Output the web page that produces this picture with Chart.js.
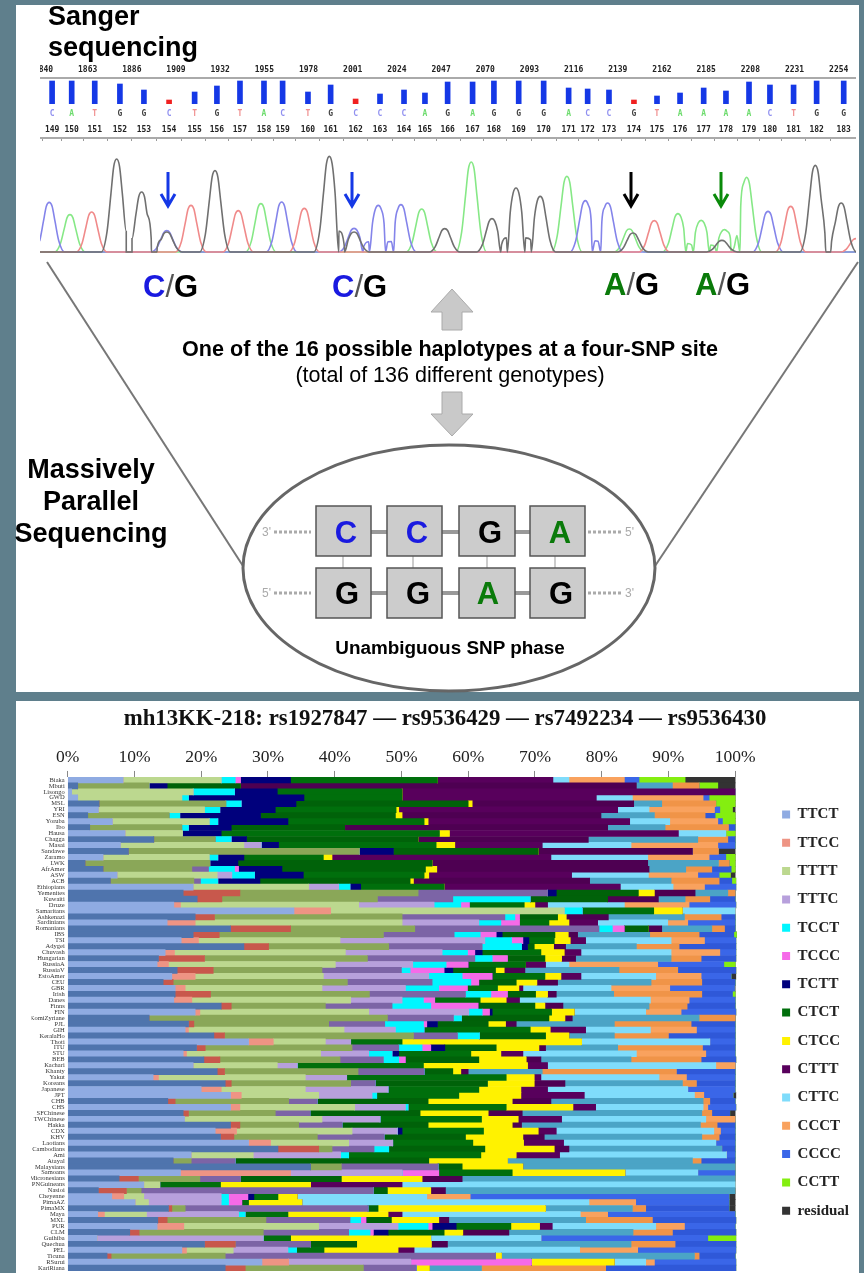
<!DOCTYPE html>
<html>
<head>
<meta charset="utf-8">
<title>mh13KK-218</title>
<script src="https://cdn.jsdelivr.net/npm/chart.js@4"></script>
<style>
html, body { margin: 0; padding: 0; background: #5f7f8c; }
body { position: relative; width: 864px; height: 1273px; overflow: hidden; }
.panel { position: absolute; left: 16px; width: 843px; background: #fff; }
canvas { position: absolute; }
svg { position: absolute; left: 0; top: 0; }
svg text { font-family: "Liberation Sans", Arial, sans-serif; }
</style>
</head>
<body>
<div class="panel" style="top:5px;height:687px"></div>
<div class="panel" style="top:701px;height:572px"></div>

<canvas id="traceChart" width="816" height="104" style="left:40px;top:150px"></canvas>
<canvas id="qualityChart" width="816" height="81" style="left:40px;top:62px"></canvas>
<canvas id="haploChart" width="843" height="572" style="left:16px;top:701px"></canvas>

<svg width="864" height="700" viewBox="0 0 864 700">
  <text x="48" y="25" font-size="27" font-weight="bold">Sanger</text>
  <text x="48" y="56" font-size="27" font-weight="bold">sequencing</text>

  <g fill="none" stroke-width="3">
    <path d="M168 172V206M161 194L168 206L175 194" stroke="#1538e6"/>
    <path d="M352 172V206M345 194L352 206L359 194" stroke="#1538e6"/>
    <path d="M631 172V206M624 194L631 206L638 194" stroke="#000"/>
    <path d="M721 172V206M714 194L721 206L728 194" stroke="#0a8a0a"/>
  </g>

  <g stroke="#777" stroke-width="2" fill="none">
    <path d="M47 262L243 566"/>
    <path d="M858 262L655 566"/>
  </g>

  <g font-size="31" font-weight="bold">
    <text x="143" y="297"><tspan fill="#1a1ae0">C</tspan><tspan fill="#555" font-weight="normal">/</tspan><tspan fill="#000">G</tspan></text>
    <text x="332" y="297"><tspan fill="#1a1ae0">C</tspan><tspan fill="#555" font-weight="normal">/</tspan><tspan fill="#000">G</tspan></text>
    <text x="604" y="295"><tspan fill="#0a7a0a">A</tspan><tspan fill="#555" font-weight="normal">/</tspan><tspan fill="#000">G</tspan></text>
    <text x="695" y="295"><tspan fill="#0a7a0a">A</tspan><tspan fill="#555" font-weight="normal">/</tspan><tspan fill="#000">G</tspan></text>
  </g>

  <g fill="#c9c9c9" stroke="#aaa" stroke-width="1">
    <path d="M452 289L473 312H462V330H442V312H431Z"/>
    <path d="M442 392H462V414H473L452 436L431 414H442Z"/>
  </g>

  <text x="450" y="356" font-size="21.6" font-weight="bold" text-anchor="middle">One of the 16 possible haplotypes at a four-SNP site</text>
  <text x="450" y="382" font-size="21.5" text-anchor="middle">(total of 136 different genotypes)</text>

  <g font-size="27" font-weight="bold" text-anchor="middle">
    <text x="91" y="478">Massively</text>
    <text x="91" y="510">Parallel</text>
    <text x="91" y="542">Sequencing</text>
  </g>

  <ellipse cx="449" cy="568" rx="206" ry="123" fill="#fff" stroke="#666" stroke-width="3"/>

  <g stroke="#999" stroke-width="4">
    <path d="M371 532H387M442 532H459M515 532H530"/>
    <path d="M371 593H387M442 593H459M515 593H530"/>
  </g>
  <g stroke="#ccc" stroke-width="2">
    <path d="M343 556V568M413 556V568M487 556V568M555 556V568"/>
  </g>
  <g stroke="#aaa" stroke-width="3" stroke-dasharray="3 2">
    <path d="M274 532H311M588 532H622M274 593H311M588 593H622"/>
  </g>
  <g font-size="12" fill="#aaa">
    <text x="262" y="536">3'</text>
    <text x="625" y="536">5'</text>
    <text x="262" y="597">5'</text>
    <text x="625" y="597">3'</text>
  </g>
  <g fill="#ccc" stroke="#555" stroke-width="1.5">
    <rect x="316" y="506" width="55" height="50"/>
    <rect x="387" y="506" width="55" height="50"/>
    <rect x="459" y="506" width="56" height="50"/>
    <rect x="530" y="506" width="55" height="50"/>
    <rect x="316" y="568" width="55" height="50"/>
    <rect x="387" y="568" width="55" height="50"/>
    <rect x="459" y="568" width="56" height="50"/>
    <rect x="530" y="568" width="55" height="50"/>
  </g>
  <g font-size="31" font-weight="bold" text-anchor="middle">
    <text x="346" y="543" fill="#1a1ae0">C</text>
    <text x="417" y="543" fill="#1a1ae0">C</text>
    <text x="490" y="543" fill="#000">G</text>
    <text x="560" y="543" fill="#0a7a0a">A</text>
    <text x="347" y="604" fill="#000">G</text>
    <text x="418" y="604" fill="#000">G</text>
    <text x="488" y="604" fill="#0a7a0a">A</text>
    <text x="561" y="604" fill="#000">G</text>
  </g>
  <text x="450" y="654" font-size="18.9" font-weight="bold" text-anchor="middle">Unambiguous SNP phase</text>
</svg>

<script>
// main stacked chart: one row per population, one array per haplotype
const populations = ['Biaka','Mbuti','Lisongo','GWD','MSL','YRI','ESN','Yoruba','Ibo','Hausa',
    'Chagga','Masai','Sandawe','Zaramo','LWK','AfrAmer','ASW','ACB','Ethiopians','Yemenites',
    'Kuwaiti','Druze','Samaritans','Ashkenazi','Sardinians','Romanians','IBS','TSI','Adygei','Chuvash',
    'Hungarian','RussiaA','RussiaV','EstoAmer','CEU','GBR','Irish','Danes','Finns','FIN',
    'KomiZyriane','PJL','GIH','KeralaHo','Thoti','ITU','STU','BEB','Kachari','Khanty',
    'Yakut','Koreans','Japanese','JPT','CHB','CHS','SFChinese','TWChinese','Hakka','CDX',
    'KHV','Laotians','Cambodians','Ami','Atayal','Malaysians','Samoans','Micronesians','PNGuineans','Nasioi',
    'Cheyenne','PimaAZ','PimaMX','Maya','MXL','PUR','CLM','Guihiba','Quechua','PEL',
    'Ticuna','RSurui','KariRiana'];

const haplotypes = ['TTCT','TTCC','TTTT','TTTC','TCCT','TCCC','TCTT','CTCT','CTCC','CTTT','CTTC','CCCT','CCCC','CCTT','residual'];

const TTCT = [8.3,1.5,0.6,1.5,4.7,4.6,3,6.7,3.3,8.6,
    12.9,7.9,9.1,5.3,2.6,5.3,7.4,6.4,18.8,17.3,
    19.4,15.9,33.9,19.1,14.9,24.4,18.8,17,26.4,14.6,
    13.6,13.4,16.4,15.6,14.3,16.1,16.1,15.9,23,19.1,
    12.2,18.1,17.6,21.9,27.1,19.3,17.3,20.4,18.8,22.4,
    12.8,23.6,20,24.4,15,24.4,17.3,17.5,24.4,22.1,
    22.9,27.1,31.5,18.5,15.8,36.4,16.9,7.7,11.4,4.6,
    6.6,10.1,15.1,4.5,13.5,13.4,9.3,4.4,20.5,17.1,5.9,29.1,23.6];
const TTCC = [0,0,0,0,0,0,0,0,0,0,
    0,0,0,0,0,0,0,0,0,8.5,
    3.7,1,5.5,2.9,4.2,9,3.9,2.6,3.7,1.4,
    6.9,1.7,5.4,3.5,1.5,1.5,5.3,2.7,1.5,0.7,
    0,0.8,0.5,1.6,3.7,1.3,0.5,2.4,0,1.1,
    0.8,0.9,3,1.6,1.1,1.4,0.8,0,1.4,3.2,
    2,3.3,6.1,0,0,0,16.5,2.9,0,4.2,
    1.8,0,0.5,1,1.4,4,1.4,0,4.6,0.7,0.6,4,3];
const TTTT = [14.7,10.7,18.2,15.6,19,15.9,12.2,14.5,13.8,8.6,
    9.2,18.5,34.6,15.9,18.7,13.3,15,12.5,17.3,26.7,
    23.3,26.7,35,28.1,31,18.6,24.6,21.2,18,25.6,
    24.4,25,16.3,19.2,26.1,20.5,23.8,23.8,14.1,25.3,
    35.7,20.2,23.3,28.3,7.8,22,20.1,18,12.6,20,
    22,17.9,12.6,11.6,17,17.2,13,20.6,8.8,17.3,
    12.5,11.7,2,9.3,2.7,4.6,0,9.2,2.4,2.2,
    3,2,2,6.3,14.8,20.2,18.6,0,0,7,17.1,0,17.7];
const TTTC = [0,0,0,0,0,0,0,0,0,0,
    0,2.6,0,0,0,2.5,2.2,1,4.5,19.4,
    11.3,11.3,0,15.4,11.5,27.6,10.6,21.7,14,14.5,
    16.1,11.6,11.9,15.8,12.7,12.5,14.4,7.7,10,15,
    9.9,8.4,7.7,6.6,3.8,7,7.2,6.5,3,9.9,
    6.2,3.7,12.4,8,4.3,7.6,5.2,8.7,6.5,6.8,
    10,6.6,6.3,13.1,6.6,14.5,16.7,6.1,0,34.8,
    11.6,10.9,27.4,13.8,12.6,11.9,12.8,24.9,11.3,8.2,40.5,18.3,7.9];
const TCCT = [2.1,0,6.2,1,2.3,2.3,1.6,1.3,1,0,
    2.4,0,0,1.3,0,3.9,3.4,2.6,1.7,0,
    11.6,4,2.7,1.5,3.3,2,3.9,4,5.9,3.8,
    2.6,5,1.3,5,5.8,5,3.8,3.2,5.8,2,
    1.2,5.8,4.3,3.3,0,3.5,3.5,2.3,0,0,
    0,0,0,0.7,0,0.4,0,0,0,0,
    0,0,2.2,1.2,0,0,0,0,0,0,
    1.1,1.1,0,1,1.6,4.5,3.2,0,0,1.3,0,0,0];
const TCCC = [0.8,0,0,0,0,0,0,0,0,0,
    0,0,0,0,0,0.6,0,0,0,0,
    0,1.3,0,0.7,2.8,1.8,2.4,1.7,0,1.1,
    2.3,3.3,5.1,4.5,1.2,4.3,2.5,1.7,7.1,1.1,
    0,0.5,0,0,0,1.3,0,1,0,0,
    0,0,0,0,0,0,0,0,0,0,
    0,0,0,0,0,0,5.5,0,0,0,
    2.9,2,0,0,0.8,0.6,0.5,0,0,0,0,18.1,0];
const TCTT = [7.5,2.7,6.4,17.3,8.2,8.3,12.1,10.5,6.4,5.8,
    2.3,2.6,5.1,3.9,4.2,6.5,7.3,6.3,1.6,1.3,
    0,0,0,0,0,0,0.9,0.9,0.9,1.1,
    0,0,1.3,0,0,0,0,0,0,0.4,
    0,1.6,0,0,0,2.1,1,0,0,0,
    0,0,0,0,0,0,0,0,0,0.7,
    0,0,0,0,0,0,0,0,0,0,
    0.9,0,0,0,0,3.6,2.2,0,0,0,0,0,0];
const CTCT = [22,11,18.7,14.7,25.8,18.1,20.2,20.4,17,32.7,
    25.7,23.6,21.7,11.9,29.1,21.5,18.1,22.5,12.5,12.3,
    11.6,8.2,10.7,5.7,4.4,3.6,7.9,3.8,1,8.8,
    5.6,8.6,6.4,7.9,5.6,4.5,4.2,6.8,8.5,8.9,
    13.1,7.6,15.9,9.9,7.7,7.7,10.8,11,18.9,4.3,
    23.9,16.8,13.6,12.3,16.6,14.7,16.5,15.2,12.9,12.2,
    12.2,12,14.4,19.8,29,3.6,11,15.1,9.1,2.1,
    3.6,1,1.5,6.4,3.8,8.2,8.4,4.1,6.9,4.1,0,0,0];
const CTCC = [0,0,0,0,0.6,0.4,1,0.6,0,1.5,
    0,2.8,0,1.3,0,1.7,0.7,0.5,0,2.4,
    0,1.6,4.3,1.3,3,0,2,2.4,2.9,3.5,
    2.5,0,1.3,2.4,3.1,3.2,1.8,3.9,1.5,3.4,
    2.4,2.6,3,3.5,26.9,6.4,4.5,7.1,15.6,1.2,
    4.2,7,6.3,9.3,12.6,10,10.2,5.5,12.6,8.2,
    8.6,7.6,10.4,5.3,11.8,9.1,16.9,12.1,13.5,6.5,
    2.9,8,25.1,15,7.1,4.3,2.8,21,11.2,11.1,0.9,12.4,2];
const CTTT = [17.3,59.3,49.9,29.1,24.2,32.8,29.8,30.2,39.4,34.3,
    25.5,13.1,23.1,32.8,32.3,31.8,21.4,26.4,26.4,6.1,
    7.6,1.9,0,6.3,4.3,2,1.4,2.3,1.8,2.5,
    2.1,3,3.1,3,3.1,0.6,1.3,2,2.7,0,
    1.1,1.6,5.3,0,0,1,3.3,2.2,3,1.1,
    1,4.6,4,9.5,5.8,3.4,5.1,6.5,1.4,2.7,
    3.2,6,2.2,6.5,0,0,0,6,13.7,2.2,
    0,0,0,2.1,1.5,1.9,6.9,0,2.4,2.4,0,0,0];
const CTTC = [2.4,5.4,0,5.4,4.2,4.7,8,6,8.6,7.1,
    16.4,13.3,0,14.5,10.6,5.5,11.5,12.2,7.9,4.9,
    4,11.5,7.9,11.4,10.5,7.5,10.8,12.8,10.6,13.5,
    14.3,3.5,14.1,11.2,14,13.2,8.6,19.6,12.9,10.7,
    19,14.7,9.7,6.8,19.2,10.8,17,13.5,25.2,11.1,
    17.7,17.6,21,16.5,22.8,16.1,26.9,21.6,26.8,23.6,
    23.6,22.8,22.9,25,27.7,31.8,10.9,40.9,49.9,43.4,
    19.4,43,13,26.7,20.5,15.5,18.6,16.5,27.5,24.8,28.9,4.7,7.8];
const CCCT = [8.3,4,0,10.6,8.1,9.8,7.6,7.2,9.5,0,
    4.5,13,3.9,9.2,1.6,3.9,7.4,7.2,4.7,1.1,
    3.7,9.7,0,5.5,3,1.9,7.4,5,6.4,7.3,
    4.5,13.3,8.8,6.8,7.6,8.8,13.2,5.8,5.7,5.3,
    5.4,11.5,6.9,8.1,0,12.7,10.4,10.5,2.9,20.1,
    4.1,2.1,0,1.4,1,0.7,1.5,4.4,2.5,1,
    2.6,0,0,0,1.3,0,0,0,0,0,
    6.5,7,2,4.1,10,4.3,5.9,0,6.6,8.7,0.7,1.3,18.6];
const CCCC = [2.2,0,0,0.9,0,0.8,1.5,0.7,1,0,
    1.1,2.6,0,2.5,0,2.9,3.2,1.9,4.7,0,
    3.8,7,0,2.1,7.1,1.6,5.2,4.7,8.5,2.4,
    5.2,9.9,8.7,4.5,5,9.7,4.6,6.9,7.2,8.2,
    0,6.6,5.8,10,3.8,4.9,4.4,5.2,0,8.8,
    7.3,5.8,7.1,4.4,3.8,4.2,2.7,0,2.7,2.2,
    2.4,2.9,2,1.3,5.1,0,5.6,0,0,0,
    38.8,14,12.5,19.1,12.5,7.6,9.5,25,9.1,14.7,5.4,12.2,19.5];
const CCTT = [6.9,2.8,0,3.9,2.9,1.9,3,1.9,0,1.4,
    0,0,0,1.4,0.9,0.6,1.7,0.6,0,0,
    0,0,0,0,0,0,0.4,0,0,0,
    0,1.7,0,0,0,0,0.4,0,0,0,
    0,0,0,0,0,0,0,0,0,0,
    0,0,0,0,0,0,0,0,0,0,
    0,0,0,0,0,0,0,0,0,0,
    0,0,0,0,0,0,0,4.2,0,0,0,0,0];
const residual = [7.5,2.6,0,0,0,0.4,0,0,0,0,
    0,0,2.5,0,0,0,0.7,0,0,0,
    0,0,0,0,0,0,0,0,0,0,
    0,0,0,0.7,0,0.1,0,0,0,0,
    0,0,0,0,0,0,0,0,0,0,
    0,0,0,0.4,0,0,0.8,0,0,0,
    0,0,0,0,0,0,0,0,0,0,
    0.9,0.9,0.9,0,0,0,0,0,0,0,0,0,0];

const percentTicks = [0,10,20,30,40,50,60,70,80,90,100];

// sanger trace: quality bars and peaks along the scan position
const scanTicks = [1840,1863,1886,1909,1932,1955,1978,2001,2024,2047,2070,2093,2116,2139,2162,2185,2208,2231,2254];
const baseCalls = ['C','A','T','G','G','C','T','G','T','A','C','T','G','C','C','C','A','G','A','G','G','G','A','C','C','G','T','A','A','A','A','C','T','G','G'];
const baseIndex = [149,150,151,152,153,154,155,156,157,158,159,160,161,162,163,164,165,166,167,168,169,170,171,172,173,174,175,176,177,178,179,180,181,182,183];
const baseScan = [1844.5,1854.7,1866.7,1879.8,1892.3,1905.4,1918.7,1930.3,1942.3,1954.8,1964.5,1977.7,1989.5,2002.5,2015.2,2027.7,2038.6,2050.4,2063.4,2074.5,2087.4,2100.4,2113.4,2123.3,2134.4,2147.4,2159.4,2171.4,2183.7,2195.3,2207.3,2218.2,2230.5,2242.5,2256.6];
const qualityValues = [23,23,23,20,14,4,12,18,23,23,23,12,19,5,10,14,11,22,22,23,23,23,16,15,14,4,8,11,16,13,22,19,19,23,23];

const peakScanA = [1853.8,1953.2,2036.9,2062.7,2112.5,2145,2170.3,2182.4,2194.6,2206];
const peakHeightA = [112,145,129,270,227,69,115,95,67,224];
const peakScanC = [1843,1904.2,1964,2001.7,2014.3,2026.1,2122.1,2133.7,2217.2];
const peakHeightC = [149,64,150,71,140,142,154,147,122];
const peakScanG = [1878.1,1891.1,1904.2,1929.3,1988.8,2001.7,2048.9,2073.5,2086,2098.6,2146.9,2193.2,2241.8,2255.3];
const peakHeightG = [279,180,60,244,287,60,70,100,192,167,57,35,260,147];
const peakScanT = [1865.1,1916.8,1941.4,1975.8,2158,2229,2263];
const peakHeightT = [120,140,124,131,94,137,40];

const seriesValues = [TTCT,TTCC,TTTT,TTTC,TCCT,TCCC,TCTT,CTCT,CTCC,CTTT,CTTC,CCCT,CCCC,CCTT,residual];
const coresClaras = ['#8fabe2','#ee9484','#bcd88f','#b7a0dc','#00f6ff','#f56ae8','#00007c','#006f0c','#fff200','#58005c','#7fdcfb','#f9a25e','#3a66e8','#84ee10','#333333'];
const coresEscuras = ['#4f74ad','#c8584c','#8aa758','#7c64a6','#00f6ff','#f56ae8','#00007c','#006209','#fff200','#4e0052','#4ba4c6','#f09448','#2f58d8','#84ee10','#333333'];
const linhasEscuras = [2,5,7,9,11,13,15,16,18,20,21,24,26,27,29,31,33,35,37,39,41,42,44,46,48,50,52,55,57,59,61,63,65,66,68,70,73,75,77,79,81,83];

const coresBase = { A: '#6fdc6f', C: '#9090f0', G: '#444444', T: '#f09090' };
const scanMin = 1838.2;
const scanMax = 2263;

function criarDatasetsHaplotipos() {
    return haplotypes.map((nome, i) => ({
        label: nome,
        data: seriesValues[i],
        backgroundColor: ctx => linhasEscuras.includes(ctx.dataIndex + 1) ? coresEscuras[i] : coresClaras[i],
        borderWidth: 0,
        barPercentage: 1,
        categoryPercentage: 1
    }));
}

function criarGraficoHaplotipos() {
    new Chart(document.getElementById('haploChart'), {
        type: 'bar',
        data: { labels: populations, datasets: criarDatasetsHaplotipos() },
        options: {
            indexAxis: 'y',
            responsive: false,
            animation: false,
            devicePixelRatio: 1,
            layout: { padding: { left: 15, right: 0, top: 4, bottom: 2 } },
            scales: {
                x: {
                    position: 'top',
                    stacked: true,
                    min: 0,
                    // room between the 100% edge and the legend
                    max: 105.04,
                    afterBuildTicks: axis => { axis.ticks = percentTicks.map(v => ({ value: v })); },
                    afterFit: axis => { axis.height = 44; },
                    ticks: {
                        callback: v => v + '%',
                        font: { family: '"Liberation Serif"', size: 17.5 },
                        color: '#222',
                        padding: 3.5,
                        maxRotation: 0,
                        autoSkip: false
                    },
                    grid: { drawOnChartArea: false, tickLength: 6, color: '#888' },
                    border: { display: false }
                },
                y: {
                    stacked: true,
                    afterFit: axis => { axis.width = 36.7; axis.paddingTop = 0; axis.paddingBottom = 0; },
                    ticks: {
                        autoSkip: false,
                        font: { family: '"Liberation Serif"', size: 6.5 },
                        color: '#333',
                        padding: 3
                    },
                    grid: { display: false, drawTicks: false },
                    border: { display: false }
                }
            },
            plugins: {
                tooltip: { enabled: false },
                title: {
                    display: true,
                    text: 'mh13KK-218: rs1927847 \u2014 rs9536429 \u2014 rs7492234 \u2014 rs9536430',
                    font: { family: '"Liberation Serif"', size: 22.8, weight: 'bold' },
                    color: '#111',
                    padding: { top: 0, bottom: 0.6 }
                },
                legend: {
                    position: 'right',
                    title: { display: true, text: ' ', padding: 24, font: { size: 1 } },
                    labels: {
                        boxWidth: 8,
                        boxHeight: 8,
                        padding: 13.3,
                        font: { family: '"Liberation Serif"', size: 15, weight: 'bold' },
                        color: '#222'
                    }
                }
            }
        }
    });
}

function eixoScan(posicao, extras) {
    return Object.assign({
        type: 'linear',
        position: posicao,
        offset: false,
        min: scanMin,
        max: scanMax,
        grid: { display: false, drawTicks: false },
        border: { display: false }
    }, extras);
}

function fonteMono() {
    return { family: '"DejaVu Sans Mono"', size: 8, weight: 'bold' };
}

function criarGraficoQualidade() {
    new Chart(document.getElementById('qualityChart'), {
        type: 'bar',
        data: {
            datasets: [{
                label: 'quality',
                data: baseScan.map((x, i) => ({ x: x, y: qualityValues[i] })),
                backgroundColor: qualityValues.map(q => q < 6 ? '#f02020' : '#1538e6'),
                barThickness: 5
            }]
        },
        options: {
            responsive: false,
            animation: false,
            devicePixelRatio: 1,
            layout: { padding: 0 },
            plugins: { legend: { display: false }, tooltip: { enabled: false } },
            scales: {
                x: eixoScan('top', {
                    afterBuildTicks: axis => { axis.ticks = scanTicks.map(v => ({ value: v })); },
                    afterFit: axis => { axis.height = 16; axis.paddingLeft = 0; axis.paddingRight = 0; },
                    ticks: { autoSkip: false, maxRotation: 0, padding: 3, font: fonteMono(), color: '#222', callback: v => v },
                    border: { display: true, color: '#aaa', width: 2 }
                }),
                xBase: eixoScan('bottom', {
                    weight: 1,
                    afterBuildTicks: axis => { axis.ticks = baseScan.map(v => ({ value: v })); },
                    afterFit: axis => { axis.height = 16; axis.paddingLeft = 0; axis.paddingRight = 0; },
                    ticks: {
                        autoSkip: false,
                        maxRotation: 0,
                        padding: 5,
                        font: fonteMono(),
                        color: ctx => coresBase[baseCalls[ctx.index]],
                        callback: (v, i) => baseCalls[i]
                    }
                }),
                xIndex: eixoScan('bottom', {
                    weight: 2,
                    afterBuildTicks: axis => { axis.ticks = baseScan.map(v => ({ value: v })); },
                    afterFit: axis => { axis.height = 18; axis.paddingLeft = 0; axis.paddingRight = 0; },
                    ticks: {
                        autoSkip: false,
                        maxRotation: 0,
                        padding: 5,
                        font: fonteMono(),
                        color: '#222',
                        callback: (v, i) => baseIndex[i]
                    }
                }),
                xRule: eixoScan('bottom', {
                    weight: 3,
                    afterBuildTicks: axis => { axis.ticks = baseScan.map(v => ({ value: v })); },
                    afterFit: axis => { axis.height = 5; axis.paddingLeft = 0; axis.paddingRight = 0; },
                    ticks: { display: false, autoSkip: false },
                    grid: { display: true, drawOnChartArea: false, drawTicks: true, tickLength: 3, color: '#999' },
                    border: { display: true, color: '#aaa', width: 2 }
                }),
                y: { display: false, min: 0, max: 26 }
            }
        }
    });
}

// bell outline of one peak: scan offset and fraction of its height
const peakOffsets = [-8,-5,-3,-1.5,0,1.5,3,5,8];
const peakFractions = [0,0.22,0.62,0.92,1,0.92,0.62,0.22,0];

function pontosDoCanal(scans, alturas) {
    const pontos = [{ x: scanMin - 10, y: 0 }];
    scans.forEach((x, i) => {
        peakOffsets.forEach((d, j) => pontos.push({ x: x + d, y: alturas[i] * peakFractions[j] }));
    });
    pontos.push({ x: scanMax + 10, y: 0 });
    return pontos.sort((a, b) => a.x - b.x);
}

function datasetTraco(nome, scans, alturas, cor) {
    return {
        label: nome,
        data: pontosDoCanal(scans, alturas),
        borderColor: cor,
        borderWidth: 1.6,
        pointRadius: 0,
        cubicInterpolationMode: 'monotone'
    };
}

function criarGraficoTraco() {
    new Chart(document.getElementById('traceChart'), {
        type: 'line',
        data: {
            datasets: [
                datasetTraco('G', peakScanG, peakHeightG, '#707070'),
                datasetTraco('T', peakScanT, peakHeightT, '#f08a8a'),
                datasetTraco('C', peakScanC, peakHeightC, '#8484ea'),
                datasetTraco('A', peakScanA, peakHeightA, '#86e886')
            ]
        },
        options: {
            responsive: false,
            animation: false,
            devicePixelRatio: 1,
            layout: { padding: 0 },
            plugins: { legend: { display: false }, tooltip: { enabled: false } },
            scales: {
                x: { type: 'linear', display: false, min: scanMin, max: scanMax },
                y: { display: false, min: -6, max: 306 }
            }
        }
    });
}

criarGraficoQualidade();
criarGraficoTraco();
criarGraficoHaplotipos();
</script>
</body>
</html>
